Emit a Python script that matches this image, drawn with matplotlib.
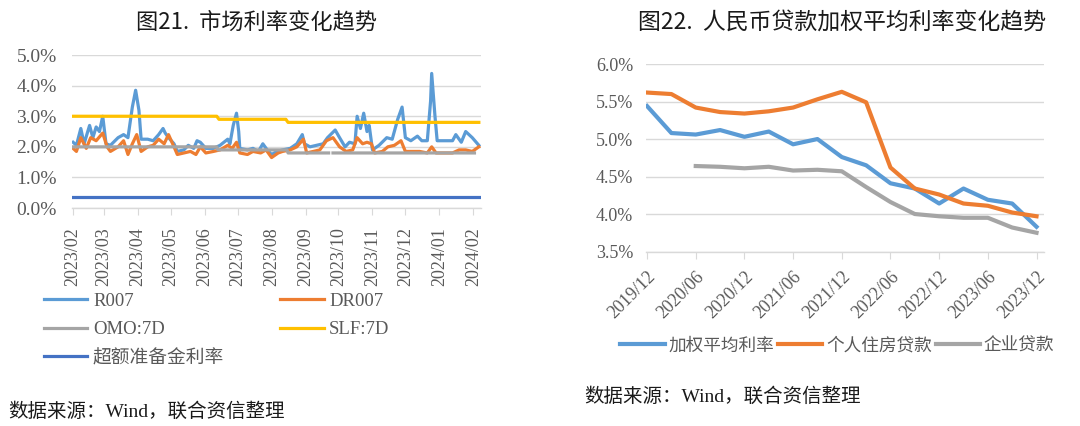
import numpy as np
import matplotlib
matplotlib.use("Agg")
import matplotlib.pyplot as plt
import matplotlib.dates as mdates
from matplotlib.ticker import FuncFormatter, FixedLocator

plt.rcParams['font.family'] = ['Liberation Serif', 'Noto Sans CJK SC']
plt.rcParams['axes.unicode_minus'] = False

# ---------------- 图21 数据（日偏移量自 2023-02-01 起） ----------------
base_day = np.datetime64('2023-02-01')

r007_day = [0, 3, 7, 10, 15, 18, 21, 24, 27, 30, 34, 41, 46, 50, 54, 57, 60, 62, 68, 73,
            78, 82, 84, 87, 92, 95, 101, 105, 110, 113, 116, 121, 128, 134, 141, 143, 146, 149, 151, 152,
            159, 164, 169, 173, 177, 181, 186, 191, 198, 204, 209, 211, 216, 222, 228, 232, 239, 243, 248, 252,
            257, 259, 262, 265, 268, 270, 273, 279, 286, 291, 296, 300, 303, 308, 314, 318, 323, 326, 327, 330,
            332, 340, 346, 349, 354, 358, 364, 370]
r007 = [2.15, 2.05, 2.6, 2.1, 2.7, 2.3, 2.65, 2.5, 3.0, 2.1,
        2.05, 2.3, 2.4, 2.3, 3.3, 3.85, 3.2, 2.25, 2.25, 2.2,
        2.4, 2.6, 2.45, 2.3, 2.1, 1.85, 1.9, 2.05, 1.95, 2.2,
        2.15, 1.95, 1.95, 2.05, 2.25, 2.1, 2.7, 3.1, 2.5, 1.95,
        1.9, 1.95, 1.85, 2.1, 1.9, 1.75, 1.85, 1.9, 1.95, 2.1,
        2.4, 2.1, 2.0, 2.05, 2.1, 2.3, 2.55, 2.3, 2.0, 2.15,
        2.1, 3.0, 2.6, 3.1, 2.5, 2.7, 1.9, 2.05, 2.3, 2.25,
        2.9, 3.3, 2.3, 2.2, 2.35, 2.2, 2.2, 3.5, 4.4, 3.0,
        2.2, 2.2, 2.2, 2.4, 2.15, 2.5, 2.3, 2.05]

dr007_day = [0, 3, 7, 12, 16, 21, 27, 31, 34, 41, 46, 50, 54, 58, 62, 68, 73, 78, 83, 87,
             92, 95, 101, 107, 112, 116, 121, 128, 134, 141, 145, 149, 152, 159, 164, 171, 176, 181, 187, 191,
             198, 204, 210, 213, 219, 225, 231, 237, 243, 249, 255, 259, 264, 268, 272, 275, 282, 287, 293, 299,
             303, 309, 316, 323, 327, 331, 338, 346, 352, 358, 364, 370]
dr007 = [1.95, 1.85, 2.3, 1.95, 2.3, 2.2, 2.45, 2.0, 1.85, 2.0,
         2.2, 1.75, 2.1, 2.4, 1.85, 2.0, 2.05, 2.25, 2.1, 2.4,
         2.0, 1.75, 1.8, 1.85, 1.75, 2.0, 1.8, 1.85, 1.9, 2.05,
         1.95, 2.15, 1.8, 1.75, 1.85, 1.8, 1.9, 1.65, 1.8, 1.85,
         1.9, 2.0, 2.25, 1.8, 1.85, 1.9, 2.2, 2.3, 2.0, 1.85,
         1.9, 2.3, 2.1, 2.15, 2.1, 1.8, 1.85, 2.0, 2.05, 2.2,
         1.85, 1.85, 1.85, 1.8, 2.0, 1.8, 1.8, 1.8, 1.9, 1.9,
         1.85, 2.0]

omo_day = [0, 131, 132, 195, 196, 233, 235, 237, 366]
omo = [2.0, 2.0, 1.9, 1.9, 1.8, 1.8, np.nan, 1.8, 1.8]

slf_day = [0, 131, 133, 194, 196, 370]
slf = [3.0, 3.0, 2.9, 2.9, 2.8, 2.8]

excess_day = [0, 370]
excess = [0.35, 0.35]

# ---------------- 图22 数据（季度） ----------------
quarters = ['2019/12', '2020/03', '2020/06', '2020/09', '2020/12', '2021/03', '2021/06', '2021/09',
            '2021/12', '2022/03', '2022/06', '2022/09', '2022/12', '2023/03', '2023/06', '2023/09', '2023/12']
weighted = [5.44, 5.08, 5.06, 5.12, 5.03, 5.10, 4.93, 5.00, 4.76, 4.65, 4.41, 4.34, 4.14, 4.34, 4.19, 4.14, 3.83]
mortgage = [5.62, 5.60, 5.42, 5.36, 5.34, 5.37, 5.42, 5.53, 5.63, 5.49, 4.62, 4.34, 4.26, 4.14, 4.11, 4.02, 3.97]
corporate = [np.nan, np.nan, 4.64, 4.63, 4.61, 4.63, 4.58, 4.59, 4.57, 4.36, 4.16, 4.00, 3.97, 3.95, 3.95, 3.82, 3.75]

C_BLUE = '#5B9BD5'
C_ORANGE = '#ED7D31'
C_GRAY = '#A5A5A5'
C_YELLOW = '#FFC000'
C_DBLUE = '#4472C4'
C_GRID = '#D9D9D9'
C_TEXT = '#595959'


def to_dates(days):
    return base_day + np.array(days, dtype='timedelta64[D]')


pct = FuncFormatter(lambda v, p: f'{v:.1f}%')

fig = plt.figure(figsize=(10.8, 4.26), dpi=100)

# ---------- 左图 ----------
ax1 = fig.add_axes([0.0667, 0.5117, 0.3787, 0.359])
lw = 2.3
l_r, = ax1.plot(to_dates(r007_day), r007, color=C_BLUE, lw=lw, solid_joinstyle='round', label='R007')
l_dr, = ax1.plot(to_dates(dr007_day), dr007, color=C_ORANGE, lw=lw, solid_joinstyle='round', label='DR007')
l_omo, = ax1.plot(to_dates(omo_day), omo, color=C_GRAY, lw=lw, label='OMO:7D')
l_slf, = ax1.plot(to_dates(slf_day), slf, color=C_YELLOW, lw=lw, label='SLF:7D')
l_ex, = ax1.plot(to_dates(excess_day), excess, color=C_DBLUE, lw=lw, label='超额准备金利率')

ax1.set_ylim(0, 5.0)
ax1.set_yticks(np.arange(0, 5.01, 1.0))
ax1.yaxis.set_major_formatter(pct)
ax1.set_xlim(to_dates([-1])[0], to_dates([372])[0])
ax1.xaxis.set_major_locator(mdates.MonthLocator())
ax1.xaxis.set_major_formatter(mdates.DateFormatter('%Y/%m'))
for lab in ax1.get_xticklabels():
    lab.set_rotation(90)

# ---------- 右图 ----------
ax2 = fig.add_axes([0.598, 0.4096, 0.3685, 0.440])
xq = np.arange(len(quarters))
lw2 = 3.0
r_w, = ax2.plot(xq, weighted, color=C_BLUE, lw=lw2, solid_joinstyle='round', label='加权平均利率')
r_m, = ax2.plot(xq, mortgage, color=C_ORANGE, lw=lw2, solid_joinstyle='round', label='个人住房贷款')
r_c, = ax2.plot(xq, corporate, color=C_GRAY, lw=lw2, solid_joinstyle='round', label='企业贷款')
ax2.set_ylim(3.5, 6.0)
ax2.set_yticks(np.arange(3.5, 6.01, 0.5))
ax2.yaxis.set_major_formatter(pct)
ax2.set_xlim(-0.05, 16.3)
ax2.xaxis.set_major_locator(FixedLocator(xq[::2]))
ax2.set_xticklabels(quarters[::2], rotation=45, ha='right', rotation_mode='anchor')

for ax in (ax1, ax2):
    for s in ('top', 'right', 'left'):
        ax.spines[s].set_visible(False)
    ax.spines['bottom'].set_color(C_GRID)
    ax.spines['bottom'].set_linewidth(1.0)
    ax.grid(axis='y', color=C_GRID, lw=1.0)
    ax.set_axisbelow(True)
    ax.tick_params(axis='x', length=5, color=C_GRID, labelsize=13, labelcolor=C_TEXT)
ax1.tick_params(axis='y', length=0, labelsize=14, labelcolor=C_TEXT, pad=11)
ax2.tick_params(axis='y', length=0, labelsize=13, labelcolor=C_TEXT, pad=9)
ax1.tick_params(axis='x', pad=9)
ax2.tick_params(axis='x', pad=7)

# ---------- 图例 ----------
fig.legend([l_r, l_omo, l_ex, l_dr, l_slf],
           ['R007', 'OMO:7D', '超额准备金利率', 'DR007', 'SLF:7D'],
           ncol=2, loc='upper left', bbox_to_anchor=(0.034, 0.33), frameon=False,
           fontsize=13.5, labelcolor=C_TEXT, handlelength=2.3, handletextpad=0.3,
           columnspacing=3.0, labelspacing=0.6, borderaxespad=0)

fig.legend([r_w, r_m, r_c], ['加权平均利率', '个人住房贷款', '企业贷款'],
           ncol=3, loc='center left', bbox_to_anchor=(0.568, 0.188), frameon=False,
           fontsize=12.7, labelcolor=C_TEXT, handlelength=2.5, handletextpad=0.2,
           columnspacing=0.25, borderaxespad=0)

# ---------- 标题与来源 ----------
fig.text(0.238, 0.948, '图21.  市场利率变化趋势', ha='center', va='center',
         fontsize=16, family=['Noto Sans CJK SC'], color='#1a1a1a')
fig.text(0.780, 0.948, '图22.  人民币贷款加权平均利率变化趋势', ha='center', va='center',
         fontsize=16.5, family=['Noto Sans CJK SC'], color='#1a1a1a')
fig.text(0.008, 0.033, '数据来源：Wind，联合资信整理', ha='left', va='center',
         fontsize=14, color='#1a1a1a')
fig.text(0.541, 0.068, '数据来源：Wind，联合资信整理', ha='left', va='center',
         fontsize=14, color='#1a1a1a')

fig.savefig('out.png', dpi=100)
